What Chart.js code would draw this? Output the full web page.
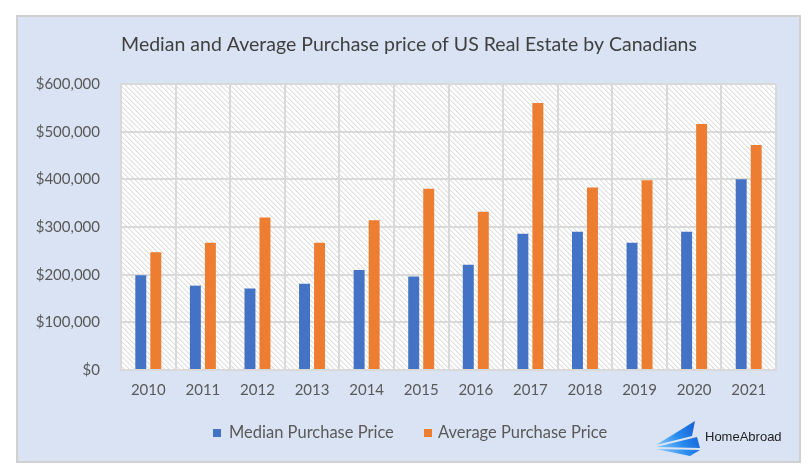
<!DOCTYPE html>
<html>
<head>
<meta charset="utf-8">
<script src="https://cdn.jsdelivr.net/npm/chart.js@4/dist/chart.umd.min.js"></script>
<style>
html,body{margin:0;padding:0;background:#ffffff;}
canvas{display:block;}
</style>
</head>
<body>
<canvas id="c" width="810" height="475"></canvas>
<script>
const years = ["2010","2011","2012","2013","2014","2015","2016","2017","2018","2019","2020","2021"];
const medianPrice = [199000,177000,171000,181000,210000,196000,221000,286000,290000,267000,290000,400000];
const averagePrice = [247000,267000,320000,267000,314000,380000,332000,560000,383000,398000,516000,472000];
const seriesNames = ["Median Purchase Price","Average Purchase Price"];
const yTicks = [0,100000,200000,300000,400000,500000,600000];
const titleText = "Median and Average Purchase price of US Real Estate by Canadians";

const FONT = "Lato, 'Open Sans', sans-serif";
const TXT = "#595959";

function makeHatch(ctx){
  const t = document.createElement('canvas');
  t.width = 5; t.height = 5;
  const g = t.getContext('2d');
  g.fillStyle = '#ffffff'; g.fillRect(0,0,5,5);
  g.fillStyle = '#e0e0e0';
  for(let i=0;i<5;i++){ g.fillRect(i,i,1,1); }
  g.fillStyle = '#f0f0f0';
  for(let i=0;i<5;i++){ g.fillRect((i+1)%5,i,1,1); }
  return ctx.createPattern(t,'repeat');
}

const frame = {
  id:'frame',
  beforeDraw(chart){
    const ctx = chart.ctx, a = chart.chartArea;
    ctx.save();
    ctx.fillStyle = '#ffffff'; ctx.fillRect(0,0,chart.width,chart.height);
    ctx.fillStyle = '#dae3f3';
    ctx.fillRect(17,16,783,446);
    ctx.strokeStyle = '#d0d0d0'; ctx.lineWidth = 2;
    ctx.strokeRect(17,16,783,446);
    ctx.fillStyle = makeHatch(ctx);
    ctx.fillRect(a.left,a.top,a.right-a.left,a.bottom-a.top);
    // title
    ctx.fillStyle = '#404040';
    ctx.font = "19.5px " + FONT;
    ctx.textAlign = 'center'; ctx.textBaseline = 'middle';
    ctx.fillText(titleText, 409, 45);
    ctx.restore();
  },
  afterDraw(chart){
    const ctx = chart.ctx;
    ctx.save();
    // legend
    ctx.font = "16.5px " + FONT;
    ctx.textBaseline = 'middle'; ctx.textAlign = 'left';
    const ds = chart.data.datasets;
    const xs = [[213,229],[424,438]];
    ds.forEach((d,i)=>{
      ctx.fillStyle = d.backgroundColor;
      ctx.fillRect(xs[i][0],429,8,8);
      ctx.fillStyle = TXT;
      ctx.fillText(d.label, xs[i][1], 433);
    });
    // logo
    const gr = ctx.createLinearGradient(656,450,700,425);
    gr.addColorStop(0,'#8fd0ff'); gr.addColorStop(0.5,'#2a8cf0'); gr.addColorStop(1,'#1258d0');
    ctx.fillStyle = gr;
    const wings = [
      [[656,445],[695,421],[692,436]],
      [[656,447],[697,437],[700,448]],
      [[656,449],[700,450],[690,456]]
    ];
    wings.forEach(w=>{
      ctx.beginPath(); ctx.moveTo(w[0][0],w[0][1]);
      for(let k=1;k<w.length;k++) ctx.lineTo(w[k][0],w[k][1]);
      ctx.closePath(); ctx.fill();
    });
    ctx.fillStyle = '#222222';
    ctx.font = "13px 'Liberation Sans', Arial, sans-serif";
    ctx.textAlign = 'left'; ctx.textBaseline = 'middle';
    ctx.fillText('HomeAbroad', 705, 437);
    ctx.restore();
  }
};

new Chart(document.getElementById('c'), {
  type:'bar',
  data:{
    labels: years,
    datasets:[
      {label: seriesNames[0], data: medianPrice, backgroundColor:'#4472c4'},
      {label: seriesNames[1], data: averagePrice, backgroundColor:'#ed7d31'}
    ]
  },
  options:{
    responsive:false,
    animation:false,
    devicePixelRatio:1,
    layout:{padding:{top:84,bottom:65,right:34,left:0}},
    datasets:{bar:{barPercentage:0.73,categoryPercentage:0.55}},
    plugins:{legend:{display:false},title:{display:false},tooltip:{enabled:false}},
    scales:{
      x:{
        grid:{color:'#d9d9d9',lineWidth:2,drawTicks:false,offset:true},
        border:{color:'#d9d9d9',width:2},
        ticks:{color:TXT,font:{family:FONT,size:15},padding:11,maxRotation:0}
      },
      y:{
        min:0,max:600000,
        afterFit(s){ s.width = 121; },
        afterBuildTicks(s){ s.ticks = yTicks.map(v=>({value:v})); },
        grid:{color:'#d9d9d9',lineWidth:2,drawTicks:false},
        border:{color:'#d9d9d9',width:2},
        ticks:{color:TXT,font:{family:FONT,size:15},padding:21,
          callback:v=>'$'+Number(v).toLocaleString('en-US')}
      }
    }
  },
  plugins:[frame]
});
</script>
</body>
</html>
